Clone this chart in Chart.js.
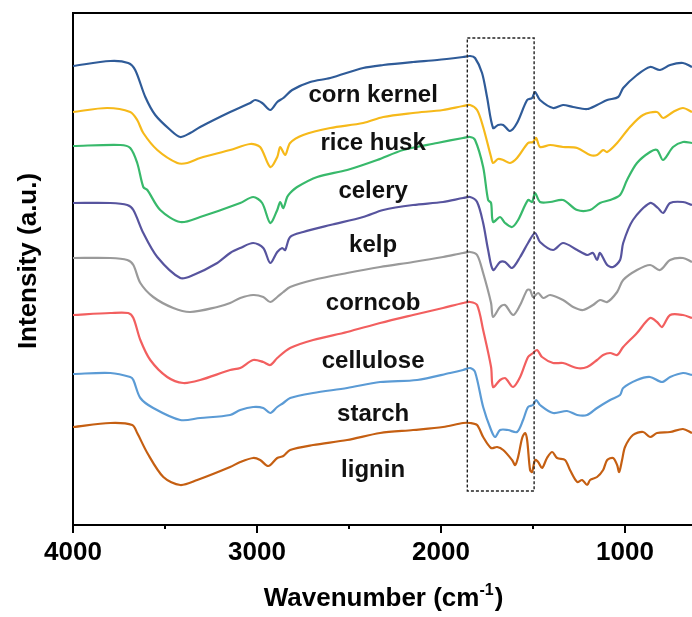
<!DOCTYPE html>
<html>
<head>
<meta charset="utf-8">
<title>FTIR spectra</title>
<script src="https://cdn.jsdelivr.net/npm/chart.js@4/dist/chart.umd.min.js"></script>
<style>
  html, body { margin: 0; padding: 0; background: #ffffff; }
  #wrap { position: relative; width: 692px; height: 617px; }
</style>
</head>
<body>
<div id="wrap"><canvas id="c" width="692" height="617"></canvas></div>
<script>
// FTIR spectra: [wavenumber (cm-1), intensity (a.u., offset for stacking)]
const cornKernel = [
  [4000,459],[3797,464],[3700,462],[3662,455],[3607,428],[3553,410],[3471,395],[3417,388],
  [3363,392],[3309,398],[3146,413],[3037,422],[3010,425],[2972,422],[2928,415],[2890,423],
  [2857,427],[2809,435],[2711,443],[2602,447],[2423,457],[2314,460],[2152,463],[2021,465],
  [1880,468],[1842,469],[1815,467],[1777,452],[1750,428],[1717,397],[1690,400],[1662,400],
  [1625,394],[1587,402],[1532,425],[1505,427],[1489,433],[1462,425],[1391,417],[1337,420],
  [1282,418],[1206,416],[1152,420],[1097,425],[1037,428],[1010,437],[935,450],[864,458],
  [810,455],[755,460],[685,462],[636,458]
];
const riceHusk = [
  [4000,413],[3814,417],[3689,413],[3651,405],[3618,392],[3542,375],[3433,362],[3379,362],
  [3309,367],[3146,375],[3037,381],[2983,378],[2928,358],[2890,368],[2874,378],[2847,370],
  [2820,382],[2749,390],[2602,397],[2423,402],[2314,408],[2152,412],[1989,415],[1880,419],
  [1842,420],[1804,415],[1771,398],[1728,368],[1717,362],[1690,366],[1662,365],[1625,362],
  [1587,367],[1527,382],[1500,383],[1483,387],[1462,378],[1407,380],[1337,378],[1260,377],
  [1190,370],[1152,370],[1119,375],[1097,373],[1043,382],[973,398],[902,410],[826,413],
  [793,407],[739,413],[685,417],[636,413]
];
const celery = [
  [4000,379],[3743,380],[3689,377],[3651,362],[3618,338],[3596,335],[3526,315],[3417,303],
  [3309,308],[3091,322],[3021,328],[2972,322],[2928,302],[2890,315],[2874,323],[2857,317],
  [2836,328],[2820,332],[2782,338],[2673,348],[2510,355],[2347,365],[2206,375],[2021,382],
  [1880,387],[1842,388],[1815,385],[1771,358],[1744,325],[1728,322],[1717,303],[1679,308],
  [1652,302],[1614,298],[1581,305],[1527,325],[1505,323],[1489,332],[1462,323],[1407,323],
  [1337,325],[1260,315],[1190,315],[1136,322],[1081,325],[1027,330],[989,345],[935,362],
  [864,373],[826,375],[793,365],[739,378],[685,383],[636,382]
];
const kelp = [
  [4000,322],[3797,322],[3705,320],[3672,315],[3618,292],[3542,268],[3417,247],[3346,250],
  [3216,262],[3146,272],[3091,277],[3021,282],[2966,277],[2928,262],[2890,273],[2863,277],
  [2847,275],[2820,288],[2749,293],[2602,300],[2423,308],[2314,315],[2152,320],[1989,323],
  [1880,327],[1842,328],[1804,323],[1771,302],[1744,275],[1717,255],[1679,263],[1652,263],
  [1614,257],[1570,268],[1527,282],[1489,292],[1462,283],[1391,275],[1337,282],[1260,275],
  [1206,270],[1174,272],[1152,265],[1136,272],[1097,260],[1065,258],[1027,265],[1010,282],
  [957,305],[864,322],[821,317],[793,312],[755,322],[685,323],[636,320]
];
const corncob = [
  [4000,267],[3797,267],[3705,265],[3672,260],[3634,242],[3564,228],[3455,217],[3363,213],
  [3216,218],[3146,222],[3091,227],[3021,230],[2966,228],[2928,223],[2890,228],[2857,233],
  [2820,238],[2695,245],[2510,252],[2331,258],[2152,263],[1989,268],[1880,272],[1842,273],
  [1804,270],[1771,252],[1728,222],[1717,208],[1679,218],[1652,220],[1608,210],[1570,220],
  [1532,235],[1516,235],[1500,228],[1472,232],[1445,227],[1407,230],[1337,225],[1282,218],
  [1228,215],[1174,220],[1136,225],[1097,223],[1043,233],[1010,245],[935,255],[864,260],
  [810,255],[755,265],[685,267],[636,263]
];
const cellulose = [
  [4000,210],[3797,212],[3700,212],[3672,207],[3634,185],[3580,165],[3488,148],[3401,142],
  [3309,145],[3146,155],[3091,157],[3021,165],[2966,163],[2928,160],[2890,167],[2820,177],
  [2695,185],[2510,193],[2331,202],[2152,210],[1989,217],[1880,222],[1842,223],[1804,220],
  [1771,195],[1728,158],[1717,138],[1679,145],[1652,147],[1641,145],[1608,138],[1570,148],
  [1527,168],[1500,172],[1478,175],[1451,168],[1391,162],[1337,162],[1260,157],[1206,158],
  [1152,165],[1119,170],[1081,172],[1043,170],[1010,178],[935,192],[864,207],[826,203],
  [799,198],[755,210],[685,210],[636,207]
];
const starch = [
  [4000,151],[3797,152],[3689,148],[3672,145],[3634,127],[3564,117],[3417,105],[3309,107],
  [3146,110],[3091,115],[3021,118],[2966,117],[2928,112],[2890,118],[2857,122],[2820,127],
  [2695,132],[2510,137],[2331,143],[2130,145],[1950,152],[1880,155],[1842,157],[1815,153],
  [1771,118],[1728,95],[1706,88],[1679,95],[1636,95],[1587,93],[1554,105],[1527,118],
  [1500,120],[1483,125],[1462,120],[1391,112],[1315,114],[1260,110],[1206,110],[1152,117],
  [1081,125],[1027,130],[1010,137],[935,145],[864,148],[799,143],[755,148],[685,152],[636,150]
];
const lignin = [
  [4000,98],[3797,102],[3678,100],[3651,92],[3596,72],[3509,48],[3417,40],[3325,45],
  [3146,58],[3091,63],[3021,67],[2983,65],[2939,59],[2890,67],[2857,69],[2820,75],
  [2695,80],[2510,85],[2331,92],[2152,95],[1989,98],[1880,102],[1842,102],[1804,100],
  [1771,88],[1728,77],[1695,78],[1662,75],[1614,65],[1597,60],[1581,68],[1559,87],
  [1543,92],[1532,85],[1516,55],[1505,53],[1489,65],[1472,63],[1451,57],[1424,67],
  [1396,73],[1369,67],[1326,65],[1299,55],[1260,43],[1233,45],[1206,40],[1190,45],
  [1152,48],[1119,55],[1097,65],[1065,67],[1043,60],[1032,53],[1016,65],[1000,78],
  [957,90],[902,93],[864,88],[826,92],[755,93],[685,96],[636,92]
];

const seriesNames = ['corn kernel', 'rice husk', 'celery', 'kelp', 'corncob', 'cellulose', 'starch', 'lignin'];
const seriesData = [cornKernel, riceHusk, celery, kelp, corncob, cellulose, starch, lignin];
const seriesColors = ['#2f5b98', '#f6b91a', '#38b96b', '#57549e', '#9a9a9a', '#f25f5f', '#5b9bd5', '#c55f12'];

// Axis ticks (cm-1)
const majorTicks = [4000, 3000, 2000, 1000];
const minorTicks = [3500, 2500, 1500];
const xRange = [636, 4000];
const yRange = [0, 512];

// Curve name labels: wavenumber position and baseline intensity
const labelWavenumber = 2369;
const labelIntensity = [423, 375, 327, 273, 215, 157, 104, 48];

// Highlighted carbonyl / aromatic region
const boxWavenumbers = [1857, 1494];
const boxIntensity = [34, 487];

const FONT = '"Liberation Sans", Arial, Helvetica, sans-serif';

const annotate = {
  id: 'annotate',
  afterDatasetsDraw(chart) {
    const ctx = chart.ctx;
    const xs = chart.scales.x, ys = chart.scales.y;
    // dashed frame around the 1850-1500 cm-1 band
    const x1 = xs.getPixelForValue(boxWavenumbers[0]);
    const x2 = xs.getPixelForValue(boxWavenumbers[1]);
    const y1 = ys.getPixelForValue(boxIntensity[1]);
    const y2 = ys.getPixelForValue(boxIntensity[0]);
    ctx.save();
    ctx.strokeStyle = '#222';
    ctx.lineWidth = 1.4;
    ctx.setLineDash([3, 2]);
    ctx.strokeRect(x1, y1, x2 - x1, y2 - y1);
    ctx.restore();

    // sample names
    ctx.save();
    ctx.font = 'bold 24px ' + FONT;
    ctx.fillStyle = '#111';
    ctx.textAlign = 'center';
    ctx.textBaseline = 'alphabetic';
    const lx = xs.getPixelForValue(labelWavenumber);
    seriesNames.forEach((name, i) => {
      ctx.fillText(name, lx, ys.getPixelForValue(labelIntensity[i]));
    });
    ctx.restore();
  },
  afterDraw(chart) {
    const ctx = chart.ctx;
    const xs = chart.scales.x;
    const area = chart.chartArea;
    // outward tick marks on the wavenumber axis
    ctx.save();
    ctx.strokeStyle = '#000';
    ctx.lineWidth = 2;
    const drawTick = (v, len) => {
      const px = Math.round(xs.getPixelForValue(v));
      ctx.beginPath();
      ctx.moveTo(px, area.bottom);
      ctx.lineTo(px, area.bottom + len);
      ctx.stroke();
    };
    majorTicks.forEach(v => drawTick(v, 8));
    minorTicks.forEach(v => drawTick(v, 4));
    ctx.restore();

    // axis titles
    ctx.save();
    ctx.fillStyle = '#000';
    ctx.font = 'bold 26px ' + FONT;
    ctx.textBaseline = 'alphabetic';
    const main = 'Wavenumber (cm';
    const sup = '-1';
    const close = ')';
    const wMain = ctx.measureText(main).width;
    const wClose = ctx.measureText(close).width;
    ctx.font = 'bold 16px ' + FONT;
    const wSup = ctx.measureText(sup).width;
    const total = wMain + wSup + wClose + 1;
    let x = (area.left + area.right) / 2 - total / 2 + 1;
    const base = 606;
    ctx.textAlign = 'left';
    ctx.font = 'bold 26px ' + FONT;
    ctx.fillText(main, x, base);
    x += wMain;
    ctx.font = 'bold 16px ' + FONT;
    ctx.fillText(sup, x, base - 11);
    x += wSup + 1;
    ctx.font = 'bold 26px ' + FONT;
    ctx.fillText(close, x, base);

    ctx.translate(36, 261);
    ctx.rotate(-Math.PI / 2);
    ctx.textAlign = 'center';
    ctx.fillText('Intensity (a.u.)', 0, 0);
    ctx.restore();
  }
};

new Chart(document.getElementById('c'), {
  type: 'line',
  data: {
    datasets: seriesData.map((d, i) => ({
      label: seriesNames[i],
      data: d.map(p => ({ x: p[0], y: p[1] })),
      borderColor: seriesColors[i],
      backgroundColor: seriesColors[i],
      borderWidth: 2.2,
      pointRadius: 0,
      tension: 0.3,
      fill: false
    }))
  },
  options: {
    responsive: false,
    animation: false,
    devicePixelRatio: 1,
    layout: { padding: 0 },
    plugins: { legend: { display: false }, tooltip: { enabled: false } },
    scales: {
      x: {
        type: 'linear',
        position: 'bottom',
        reverse: true,
        min: xRange[0],
        max: xRange[1],
        grid: { display: false, drawTicks: false },
        border: { display: true, color: '#000', width: 2 },
        afterBuildTicks: s => { s.ticks = majorTicks.map(v => ({ value: v })); },
        ticks: {
          autoSkip: false,
          maxRotation: 0,
          padding: 12,
          color: '#000',
          font: { family: FONT, size: 26, weight: 'bold' },
          callback: v => String(v)
        },
        afterFit: s => { s.height = 92; }
      },
      x2: {
        type: 'linear',
        position: 'top',
        display: true,
        grid: { display: false, drawTicks: false },
        ticks: { display: false },
        border: { display: true, color: '#000', width: 2 },
        afterFit: s => { s.height = 13; }
      },
      y: {
        type: 'linear',
        position: 'left',
        min: yRange[0],
        max: yRange[1],
        grid: { display: false, drawTicks: false },
        ticks: { display: false },
        border: { display: true, color: '#000', width: 2 },
        afterFit: s => { s.width = 73; }
      }
    }
  },
  plugins: [annotate]
});
</script>
</body>
</html>
